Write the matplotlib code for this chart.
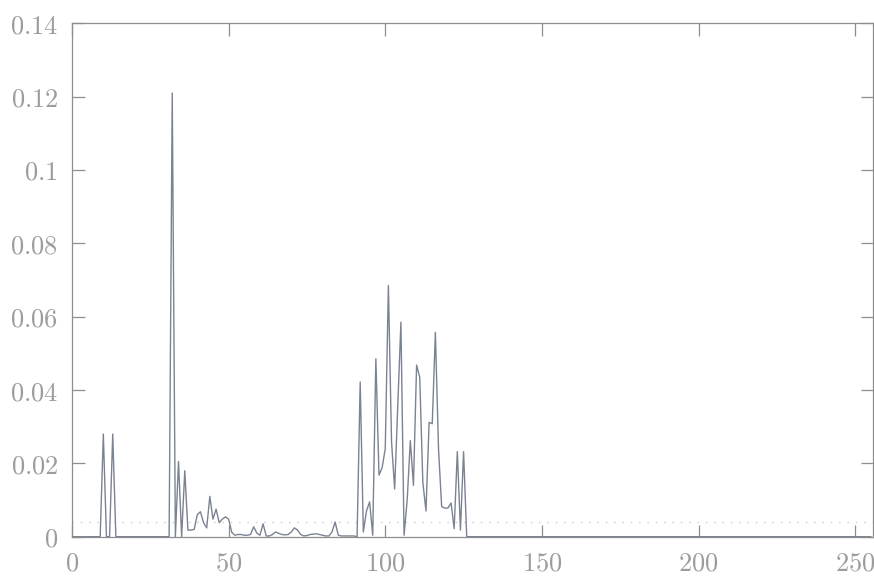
import matplotlib
matplotlib.use("Agg")
import matplotlib.pyplot as plt
import numpy as np

plt.rcParams['mathtext.fontset'] = 'cm'

# probability of each value 0..255
x_vals = np.arange(256)

low_part = {
    10: 0.028, 13: 0.028,
    32: 0.121, 34: 0.0205, 36: 0.018, 37: 0.0018, 38: 0.0018, 39: 0.002,
    40: 0.006, 41: 0.0068, 42: 0.0038, 43: 0.0024, 44: 0.011, 45: 0.0048,
    46: 0.0075, 47: 0.0038, 48: 0.0048, 49: 0.0054, 50: 0.0048, 51: 0.0012,
    52: 0.0004, 53: 0.0006, 54: 0.0006, 55: 0.0004, 56: 0.0004, 57: 0.0006,
    58: 0.0027, 59: 0.001, 60: 0.0004, 61: 0.0035, 62: 0.0002, 63: 0.0002,
    64: 0.0006, 65: 0.0013, 66: 0.0009, 67: 0.0006, 68: 0.0005, 69: 0.0006,
    70: 0.0013, 71: 0.0024, 72: 0.0018, 73: 0.0006, 74: 0.0002, 75: 0.0003,
    76: 0.0006, 77: 0.0007, 78: 0.0008, 79: 0.0006, 80: 0.0004, 81: 0.0002,
    82: 0.0002, 83: 0.0013, 84: 0.004, 85: 0.0004, 86: 0.0002, 87: 0.0002,
    88: 0.0002, 89: 0.0002, 90: 0.0002,
}

high_part = {
    92: 0.0422, 93: 0.0013, 94: 0.007, 95: 0.0095, 96: 0.0004, 97: 0.0485,
    98: 0.0168, 99: 0.0188, 100: 0.024, 101: 0.0685, 102: 0.026, 103: 0.013,
    104: 0.036, 105: 0.0585, 106: 0.0004, 107: 0.010, 108: 0.0262, 109: 0.014,
    110: 0.0468, 111: 0.0435, 112: 0.0148, 113: 0.007, 114: 0.0312, 115: 0.0308,
    116: 0.0557, 117: 0.024, 118: 0.0082, 119: 0.0078, 120: 0.0078, 121: 0.0092,
    122: 0.0022, 123: 0.0232, 124: 0.0018, 125: 0.0232, 126: 0.0,
}

probs = np.zeros(256)
for k, v in {**low_part, **high_part}.items():
    probs[k] = v

uniform_level = 1.0 / 256

x_ticks = [0, 50, 100, 150, 200, 250]
y_ticks = [0, 0.02, 0.04, 0.06, 0.08, 0.1, 0.12, 0.14]

fig = plt.figure(figsize=(8.74, 5.76), dpi=100)
ax = fig.add_axes([72 / 874, 39.3 / 576, 801 / 874, 513.4 / 576])

ax.axhline(uniform_level, color='#cccccc', linestyle=(0, (1, 5)), lw=1.0)
ax.plot(x_vals, probs, color='#7a8392', lw=1.0)

ax.set_xlim(0, 255.7)
ax.set_ylim(0, 0.14)
ax.set_xticks(x_ticks)
ax.set_yticks(y_ticks)
ax.xaxis.set_major_formatter(plt.FuncFormatter(lambda v, p: f'${v:g}$'))
ax.yaxis.set_major_formatter(plt.FuncFormatter(lambda v, p: f'${v:g}$'))

ax.tick_params(direction='in', length=9, width=0.9, color='#8e8e8e',
               top=True, right=True, labelsize=19, labelcolor='#9c9c9c')
ax.tick_params(axis='x', pad=10)
ax.tick_params(axis='y', pad=10)
for s in ax.spines.values():
    s.set_color('#8e8e8e')
    s.set_linewidth(0.9)

fig.savefig('out.png', dpi=100)
